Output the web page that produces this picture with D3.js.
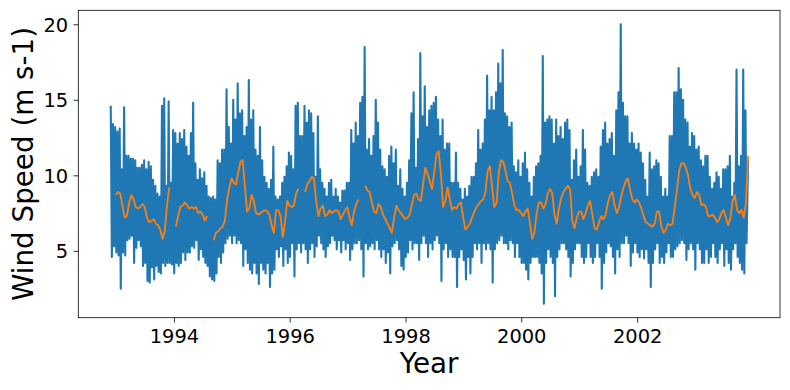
<!DOCTYPE html>
<html><head><meta charset="utf-8">
<script src="https://cdn.jsdelivr.net/npm/d3@7"></script>
<style>
body{margin:0;background:#fff}
svg{display:block}
text{font-family:"DejaVu Sans",sans-serif;fill:#000}
</style>
</head><body>
<svg id="chart" width="790" height="390"></svg>
<script>
// ---- data ----
const startDate = "1992-11-25";     // first daily record
const endDate = "2003-12-02";       // last daily record
const bucketsPerYear = 26;          // two-week buckets: high / low of the daily wind speed
// per two-week bucket: highest daily value (m s-1), one row per year (Dec..Nov)
const speedHigh = [
 14.6,13.4,13.2,12.9,13.1,10.4,14.5,11.3,11.3,11.1,11.1,11.0,10.5,10.5,10.7,11.0,10.4,10.9,10.6,9.7,9.3,8.8,8.6,14.6,15.1,9.3,
 14.9,9.5,13.0,12.8,12.1,12.8,12.4,13.0,11.9,11.3,12.8,14.8,10.8,9.7,10.4,9.8,10.2,9.3,8.6,8.5,8.6,8.4,11.0,10.8,11.7,11.7,
 15.7,13.2,12.1,15.0,13.7,16.1,14.1,14.3,12.6,13.2,16.3,13.7,14.3,11.7,11.3,13.2,11.0,9.9,9.5,9.1,9.7,11.9,8.6,8.4,8.6,9.5,
 9.9,10.6,11.5,11.3,10.4,14.6,14.8,12.6,12.6,14.6,13.5,14.3,14.1,12.8,9.9,13.9,10.4,9.5,9.1,8.6,9.5,9.7,8.6,9.1,8.6,8.2,
 9.0,9.0,9.5,9.5,13.0,12.1,13.5,12.6,14.8,15.2,18.5,11.7,12.4,11.3,12.6,15.0,13.5,11.7,10.6,10.4,9.9,11.3,11.9,10.8,11.7,9.3,
 10.4,9.1,8.6,9.5,11.0,14.1,15.5,10.5,12.4,18.1,13.9,15.9,13.2,14.3,14.6,14.8,15.2,13.7,12.6,13.7,11.7,12.1,12.1,9.5,9.5,11.5,
 9.5,9.1,8.4,9.1,8.6,9.3,9.9,9.9,10.8,13.0,11.7,12.1,13.7,16.6,14.3,15.2,14.3,15.5,17.4,16.1,18.3,14.1,13.9,13.2,13.5,10.6,
 10.2,11.0,9.9,10.8,11.5,10.4,9.5,8.6,9.9,10.6,10.8,11.3,17.9,13.5,13.7,13.9,13.7,12.1,13.7,12.6,13.2,12.4,13.5,13.7,13.0,9.7,
 11.0,11.7,9.9,10.6,13.0,11.7,9.5,9.3,9.9,10.2,10.4,9.9,11.9,13.0,13.5,12.1,12.4,12.8,11.3,14.3,15.5,20.0,14.8,13.9,13.9,12.1,
 12.8,12.1,11.7,12.1,11.5,10.8,9.7,8.6,11.5,10.4,10.6,11.0,10.8,9.9,8.6,9.1,8.6,12.6,12.6,15.5,15.5,17.1,15.7,15.0,13.7,13.5,
 11.9,12.8,12.6,11.7,11.9,11.0,10.6,11.3,11.3,9.9,9.1,9.5,10.2,9.9,9.1,10.4,10.4,10.6,11.3,8.6,9.5,17.0,10.6,11.3,17.0,14.3
];
// per two-week bucket: lowest daily value (m s-1)
const speedLow = [
 4.6,5.3,4.9,4.7,2.5,4.9,4.7,5.7,5.8,6.0,4.2,5.2,5.7,5.3,4.0,4.2,3.0,2.9,3.9,3.1,4.0,3.6,3.5,4.2,4.0,4.2,
 4.2,4.1,3.5,4.2,4.0,4.2,4.9,4.4,4.9,4.9,5.3,5.2,5.7,4.4,5.1,4.6,4.2,4.0,3.3,3.1,3.0,3.5,4.6,4.2,4.9,5.5,
 5.8,6.0,5.5,6.0,5.5,5.7,5.5,4.0,5.1,4.2,3.75,3.5,4.2,3.5,2.8,4.2,3.75,3.5,4.2,2.6,3.5,3.75,5.1,4.6,5.3,4.0,
 5.1,4.2,4.6,5.5,3.3,5.1,5.5,4.9,5.5,5.1,4.2,5.1,5.5,4.6,5.3,6.0,5.5,5.1,4.6,5.3,5.5,6.0,5.7,5.1,5.7,4.9,
 5.7,5.1,5.5,4.4,5.1,5.5,5.5,5.7,5.1,3.3,5.5,5.1,5.3,5.5,5.1,5.7,5.1,4.6,5.1,4.2,4.9,3.5,5.3,5.5,5.7,5.1,
 4.0,3.75,4.6,4.9,5.7,5.1,5.5,5.5,4.4,5.5,6.0,5.5,4.6,5.5,5.1,5.7,6.0,5.5,3.0,5.1,5.5,4.6,5.1,4.6,4.6,2.6,
 4.6,5.1,4.4,3.1,4.6,3.5,4.6,5.5,5.1,5.5,4.2,5.5,5.1,5.5,5.1,2.9,5.1,5.5,5.7,6.0,5.5,5.5,5.1,5.7,5.5,4.6,
 5.5,4.6,4.2,4.2,3.75,3.1,4.2,4.6,4.6,4.6,4.2,3.5,1.5,4.2,5.1,4.6,4.2,2.0,4.6,5.1,5.5,5.5,5.1,4.6,3.3,4.2,
 5.1,5.5,5.5,4.6,4.2,4.6,5.5,4.6,4.2,4.6,5.5,4.6,2.5,4.2,4.9,5.5,5.3,4.6,3.5,5.1,4.6,5.5,5.5,6.0,5.5,4.0,
 4.9,5.5,4.9,4.6,5.1,4.5,5.1,4.2,2.6,4.2,5.1,5.5,4.2,4.6,4.2,4.9,5.5,4.6,4.6,5.1,5.3,5.5,5.7,5.5,4.4,5.1,
 5.5,5.1,3.75,5.5,5.1,4.2,4.2,5.1,4.2,4.6,5.5,4.6,4.2,5.1,5.5,4.0,5.1,4.2,3.75,5.1,5.5,4.6,4.2,3.75,3.5,5.5
];
// 30-day rolling mean at the middle of each bucket (null = no value)
const rollingMean = [
 null,null,8.7,8.9,8.8,8.0,7.2,7.3,8.2,8.7,8.4,7.9,7.8,7.9,8.1,7.9,7.2,6.9,7.0,7.1,6.8,6.7,6.4,5.8,6.3,8.0,
 9.2,null,null,6.6,7.3,7.9,8.0,8.2,8.0,7.8,7.9,7.8,7.9,7.5,7.6,7.4,7.0,7.3,null,null,5.7,6.2,6.3,6.5,6.6,7.0,
 8.4,9.2,9.8,9.5,9.4,10.2,10.9,11.0,9.2,7.6,7.8,8.7,8.3,7.5,7.4,7.5,7.6,7.7,7.6,7.4,6.7,6.2,7.7,7.7,7.3,5.9,
 6.9,8.3,8.0,7.9,8.0,8.8,9.1,null,null,8.9,9.4,9.6,9.9,9.8,8.3,7.3,7.8,8.0,7.3,7.4,7.7,7.5,7.6,7.7,7.6,7.1,
 7.4,7.7,7.9,7.2,6.7,7.6,8.1,8.4,null,null,9.3,9.0,8.9,8.2,7.6,7.5,8.1,7.9,7.4,7.1,6.8,6.5,6.2,7.2,8.0,7.7,
 7.5,7.3,7.1,7.2,7.4,8.1,8.7,8.8,8.4,8.3,9.4,10.5,10.1,9.6,9.1,10.2,11.4,11.6,10.1,7.9,8.3,9.2,8.4,7.7,7.9,7.8,
 8.1,8.2,7.2,6.4,6.6,6.8,7.2,7.6,7.9,8.1,8.3,8.4,8.9,10.3,10.6,9.2,7.9,8.2,10.2,11.0,10.9,10.3,9.6,9.5,8.8,8.0,
 7.7,7.7,7.5,7.3,7.6,7.8,6.8,5.8,6.2,7.5,8.2,8.2,7.8,8.1,8.8,9.1,8.8,7.4,6.8,7.8,8.5,8.9,9.1,9.3,9.1,7.0,
 6.5,7.2,7.6,7.6,7.1,7.5,8.0,8.3,7.4,6.5,6.4,6.9,7.3,7.1,7.4,8.2,8.7,8.9,8.0,7.5,7.9,8.6,9.2,9.6,9.8,9.0,
 8.4,8.2,8.4,8.2,7.8,7.3,6.9,6.8,6.7,6.6,6.8,7.6,7.6,6.6,6.2,6.4,6.8,6.7,6.8,7.9,9.0,10.3,10.8,10.8,10.5,10.0,
 9.1,8.7,8.5,8.9,8.7,8.0,8.1,7.9,7.3,7.3,7.4,7.2,6.9,7.1,7.5,7.7,7.2,6.7,7.2,8.3,8.7,7.7,7.5,7.7,7.2,8.2
];
const lastSpeed = 11.0;   // value on endDate
const lastMean = 11.3;    // rolling mean on endDate
const yearTicks = [1994, 1996, 1998, 2000, 2002];
const speedTicks = [5, 10, 15, 20];

// ---- build series ----
const t0 = new Date(startDate + "T00:00:00Z");
const t1 = new Date(endDate + "T00:00:00Z");
const bucketDays = 365.25 / bucketsPerYear;
const dayMs = 864e5;
const at = d => new Date(t0.getTime() + d * dayMs);

const speed = [];
speedHigh.forEach((h, k) => {
  speed.push({t: at(k * bucketDays + 3.5), v: h});
  speed.push({t: at(k * bucketDays + 10.5), v: speedLow[k]});
});
speed.push({t: t1, v: lastSpeed});
const mean = rollingMean.map((v, k) => ({t: at((k + 0.5) * bucketDays), v}));
mean.push({t: t1, v: lastMean});

// ---- layout ----
const L = 78.3, R = 780, T = 10.3, B = 317.7;
const svg = d3.select("#chart");

const span = t1 - t0;
const x = d3.scaleUtc()
  .domain([new Date(t0 - 0.05 * span), new Date(t1.getTime() + 0.05 * span)])
  .range([L, R]);
const allV = speed.map(d => d.v);
const vmin = d3.min(allV), vmax = d3.max(allV), vr = vmax - vmin;
const y = d3.scaleLinear().domain([vmin - 0.05 * vr, vmax + 0.05 * vr]).range([B, T]);

const plot = svg.append("g");
plot.append("path").datum(speed)
  .attr("fill", "none").attr("stroke", "#1f77b4").attr("stroke-width", 2.1)
  .attr("stroke-linejoin", "round")
  .attr("d", d3.line().x(d => x(d.t)).y(d => y(d.v)));
plot.append("path").datum(mean)
  .attr("fill", "none").attr("stroke", "#ff7f0e").attr("stroke-width", 1.8)
  .attr("stroke-linejoin", "round")
  .attr("d", d3.line().defined(d => d.v != null).x(d => x(d.t)).y(d => y(d.v)));

// axes
const fs = 19.44;
const xAxis = d3.axisBottom(x)
  .tickValues(yearTicks.map(yr => new Date(Date.UTC(yr, 0, 1))))
  .tickFormat(d3.utcFormat("%Y")).tickSize(4.86).tickPadding(6.9).tickSizeOuter(0);
const gx = svg.append("g").attr("transform", `translate(0,${B})`).call(xAxis);
const yAxis = d3.axisLeft(y).tickValues(speedTicks).tickFormat(d3.format("d"))
  .tickSize(4.86).tickPadding(5.3).tickSizeOuter(0);
const gy = svg.append("g").attr("transform", `translate(${L},0)`).call(yAxis);
[gx, gy].forEach(g => {
  g.select(".domain").remove();
  g.selectAll(".tick line").attr("stroke", "#000").attr("stroke-width", 0.8);
  g.selectAll(".tick text").attr("font-size", fs).attr("font-family", "DejaVu Sans").attr("fill", "#000");
});
gy.selectAll(".tick text").attr("dy", "0.36em");

// frame
svg.append("rect").attr("x", L).attr("y", T).attr("width", R - L).attr("height", B - T)
  .attr("fill", "none").attr("stroke", "#000").attr("stroke-width", 0.8);

// labels
svg.append("text").attr("x", (L + R) / 2).attr("y", 373).attr("text-anchor", "middle")
  .attr("font-size", 27.78).text("Year");
svg.append("text").attr("transform", `translate(32.7,${(T + B) / 2}) rotate(-90)`)
  .attr("text-anchor", "middle").attr("font-size", 27.78).text("Wind Speed (m s-1)");
</script>
</body></html>
